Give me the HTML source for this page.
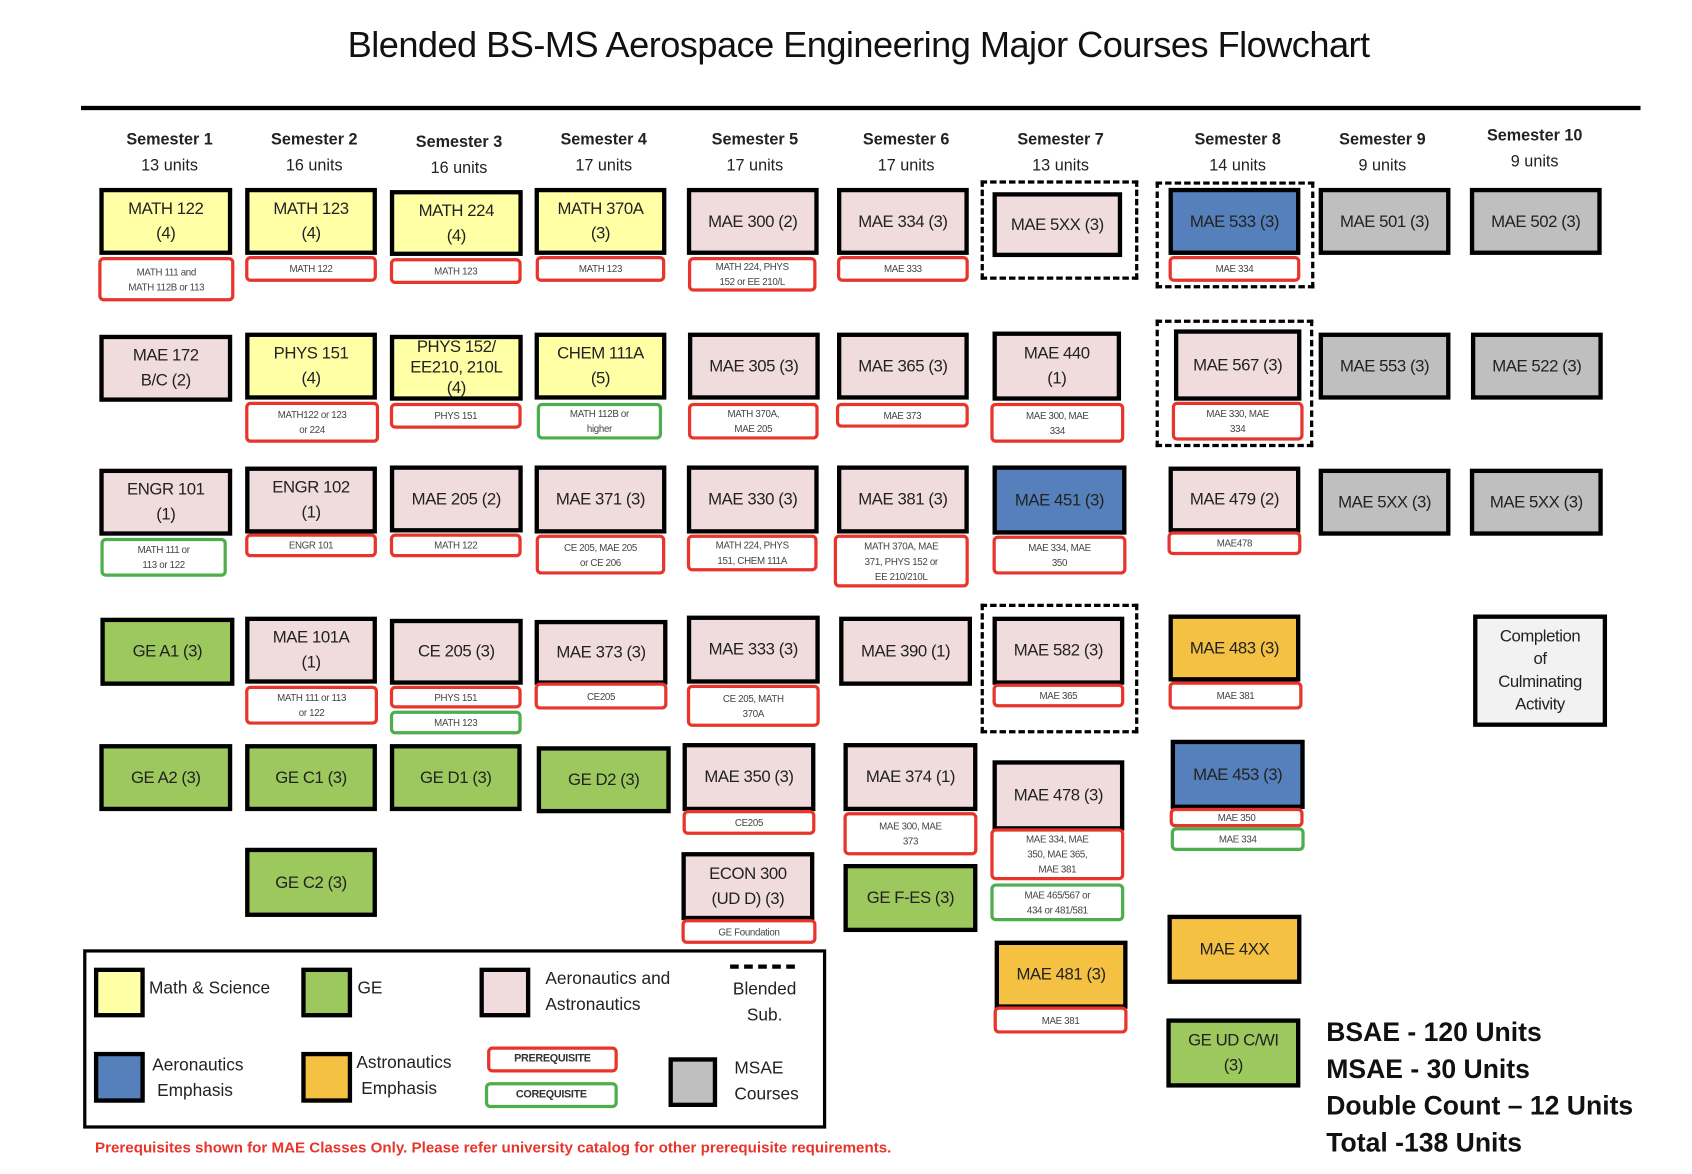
<!DOCTYPE html>
<html><head><meta charset="utf-8"><style>
html,body{margin:0;padding:0;background:#fff;}
body{width:1692px;height:1174px;overflow:hidden;position:relative;}
#s{position:absolute;left:0;top:0;width:1567px;height:1087px;transform:scale(1.08);transform-origin:0 0;font-family:"Liberation Sans",sans-serif;color:#222;}
#s div{position:absolute;box-sizing:border-box;}
.b{border:4px solid #000;display:flex;align-items:center;justify-content:center;text-align:center;font-size:15.5px;line-height:23px;letter-spacing:-0.4px;}
.p,.c{background:#fff;border:3px solid #e8342b;border-radius:5px;display:flex;align-items:center;justify-content:center;text-align:center;font-size:9px;line-height:14px;color:#444;letter-spacing:-0.3px;}
.c{border-color:#4cae4c;}
.y{background:#ffffa6}.k{background:#f0dcdc}.g{background:#9cc85e}.u{background:#5580bb}.o{background:#f4c142}.r{background:#bfbfbf}
.d{border:3.5px dashed #000;}
.h{text-align:center;width:120px;font-size:15px;line-height:24px;}
.h b{font-weight:bold;}
.t{font-size:16px;line-height:24px;}
</style></head><body><div id="s">
<div style="left:0;width:1552px;top:24px;text-align:center;font-size:33.5px;letter-spacing:-0.5px;color:#111;padding-left:38px">Blended BS-MS Aerospace Engineering Major Courses Flowchart</div>
<div style="left:75px;top:98px;width:1444px;height:4px;background:#000"></div>

<div class="h" style="left:97px;top:118px"><b>Semester 1</b><br>13 units</div>
<div class="h" style="left:231px;top:118px"><b>Semester 2</b><br>16 units</div>
<div class="h" style="left:365px;top:120px"><b>Semester 3</b><br>16 units</div>
<div class="h" style="left:499px;top:118px"><b>Semester 4</b><br>17 units</div>
<div class="h" style="left:639px;top:118px"><b>Semester 5</b><br>17 units</div>
<div class="h" style="left:779px;top:118px"><b>Semester 6</b><br>17 units</div>
<div class="h" style="left:922px;top:118px"><b>Semester 7</b><br>13 units</div>
<div class="h" style="left:1086px;top:118px"><b>Semester 8</b><br>14 units</div>
<div class="h" style="left:1220px;top:118px"><b>Semester 9</b><br>9 units</div>
<div class="h" style="left:1361px;top:114px"><b>Semester 10</b><br>9 units</div>

<!-- Row 1 -->
<div class="b y" style="left:92px;top:174px;width:123px;height:62px">MATH 122<br>(4)</div>
<div class="p" style="left:91px;top:238px;width:126px;height:41px">MATH 111 and<br>MATH 112B or 113</div>
<div class="b y" style="left:227px;top:174px;width:122px;height:62px">MATH 123<br>(4)</div>
<div class="p" style="left:227px;top:237px;width:122px;height:24px">MATH 122</div>
<div class="b y" style="left:361px;top:176px;width:123px;height:61px">MATH 224<br>(4)</div>
<div class="p" style="left:361px;top:239px;width:122px;height:24px">MATH 123</div>
<div class="b y" style="left:495px;top:174px;width:122px;height:62px">MATH 370A<br>(3)</div>
<div class="p" style="left:496px;top:237px;width:120px;height:24px">MATH 123</div>
<div class="b k" style="left:636px;top:174px;width:122px;height:62px">MAE 300 (2)</div>
<div class="p" style="left:637px;top:238px;width:119px;height:32px">MATH 224, PHYS<br>152 or EE 210/L</div>
<div class="b k" style="left:775px;top:174px;width:122px;height:62px">MAE 334 (3)</div>
<div class="p" style="left:775px;top:237px;width:122px;height:24px">MAE 333</div>
<div class="d" style="left:908px;top:167px;width:146px;height:92px"></div>
<div class="b k" style="left:919px;top:178px;width:120px;height:60px">MAE 5XX (3)</div>
<div class="d" style="left:1070px;top:168px;width:147px;height:99px"></div>
<div class="b u" style="left:1082px;top:174px;width:122px;height:62px">MAE 533 (3)</div>
<div class="p" style="left:1082px;top:237px;width:122px;height:24px">MAE 334</div>
<div class="b r" style="left:1221px;top:174px;width:122px;height:62px">MAE 501 (3)</div>
<div class="b r" style="left:1361px;top:174px;width:122px;height:62px">MAE 502 (3)</div>

<!-- Row 2 -->
<div class="b k" style="left:92px;top:310px;width:123px;height:62px">MAE 172<br>B/C (2)</div>
<div class="b y" style="left:227px;top:308px;width:122px;height:62px">PHYS 151<br>(4)</div>
<div class="p" style="left:227px;top:372px;width:124px;height:38px">MATH122 or 123<br>or 224</div>
<div class="b y" style="left:361px;top:310px;width:123px;height:61px;line-height:19px">PHYS 152/<br>EE210, 210L<br>(4)</div>
<div class="p" style="left:361px;top:373px;width:122px;height:24px">PHYS 151</div>
<div class="b y" style="left:495px;top:308px;width:122px;height:62px">CHEM 111A<br>(5)</div>
<div class="c" style="left:497px;top:373px;width:116px;height:34px">MATH 112B or<br>higher</div>
<div class="b k" style="left:637px;top:308px;width:122px;height:62px">MAE 305 (3)</div>
<div class="p" style="left:637px;top:373px;width:121px;height:34px">MATH 370A,<br>MAE 205</div>
<div class="b k" style="left:775px;top:308px;width:122px;height:62px">MAE 365 (3)</div>
<div class="p" style="left:774px;top:373px;width:123px;height:23px">MAE 373</div>
<div class="b k" style="left:919px;top:307px;width:119px;height:64px">MAE 440<br>(1)</div>
<div class="p" style="left:917px;top:373px;width:124px;height:37px">MAE 300, MAE<br>334</div>
<div class="d" style="left:1070px;top:296px;width:146px;height:118px"></div>
<div class="b k" style="left:1087px;top:305px;width:118px;height:66px">MAE 567 (3)</div>
<div class="p" style="left:1085px;top:372px;width:122px;height:36px">MAE 330, MAE<br>334</div>
<div class="b r" style="left:1221px;top:308px;width:122px;height:62px">MAE 553 (3)</div>
<div class="b r" style="left:1362px;top:308px;width:122px;height:62px">MAE 522 (3)</div>

<!-- Row 3 -->
<div class="b k" style="left:92px;top:434px;width:123px;height:62px">ENGR 101<br>(1)</div>
<div class="c" style="left:93px;top:498px;width:117px;height:36px">MATH 111 or<br>113 or 122</div>
<div class="b k" style="left:227px;top:432px;width:122px;height:62px">ENGR 102<br>(1)</div>
<div class="p" style="left:227px;top:494px;width:122px;height:22px">ENGR 101</div>
<div class="b k" style="left:361px;top:431px;width:123px;height:62px">MAE 205 (2)</div>
<div class="p" style="left:361px;top:494px;width:122px;height:22px">MATH 122</div>
<div class="b k" style="left:495px;top:431px;width:122px;height:63px">MAE 371 (3)</div>
<div class="p" style="left:496px;top:495px;width:120px;height:37px">CE 205, MAE 205<br>or CE 206</div>
<div class="b k" style="left:636px;top:431px;width:122px;height:63px">MAE 330 (3)</div>
<div class="p" style="left:636px;top:495px;width:121px;height:34px">MATH 224, PHYS<br>151, CHEM 111A</div>
<div class="b k" style="left:775px;top:431px;width:122px;height:63px">MAE 381 (3)</div>
<div class="p" style="left:772px;top:495px;width:125px;height:49px">MATH 370A, MAE<br>371, PHYS 152 or<br>EE 210/210L</div>
<div class="b u" style="left:919px;top:431px;width:124px;height:64px">MAE 451 (3)</div>
<div class="p" style="left:919px;top:496px;width:124px;height:36px">MAE 334, MAE<br>350</div>
<div class="b k" style="left:1082px;top:432px;width:122px;height:61px">MAE 479 (2)</div>
<div class="p" style="left:1081px;top:492px;width:124px;height:22px">MAE478</div>
<div class="b r" style="left:1221px;top:434px;width:122px;height:62px">MAE 5XX (3)</div>
<div class="b r" style="left:1361px;top:434px;width:123px;height:62px">MAE 5XX (3)</div>

<!-- Row 4 -->
<div class="b g" style="left:93px;top:572px;width:124px;height:63px">GE A1 (3)</div>
<div class="b k" style="left:227px;top:571px;width:122px;height:62px">MAE 101A<br>(1)</div>
<div class="p" style="left:227px;top:635px;width:123px;height:36px">MATH 111 or 113<br>or 122</div>
<div class="b k" style="left:361px;top:573px;width:123px;height:61px">CE 205 (3)</div>
<div class="p" style="left:361px;top:635px;width:122px;height:21px">PHYS 151</div>
<div class="c" style="left:361px;top:658px;width:122px;height:22px">MATH 123</div>
<div class="b k" style="left:495px;top:574px;width:123px;height:60px">MAE 373 (3)</div>
<div class="p" style="left:495px;top:632px;width:123px;height:25px">CE205</div>
<div class="b k" style="left:636px;top:570px;width:123px;height:63px">MAE 333 (3)</div>
<div class="p" style="left:636px;top:634px;width:123px;height:39px">CE 205, MATH<br>370A</div>
<div class="b k" style="left:777px;top:571px;width:123px;height:64px">MAE 390 (1)</div>
<div class="d" style="left:908px;top:559px;width:146px;height:120px"></div>
<div class="b k" style="left:919px;top:571px;width:122px;height:63px">MAE 582 (3)</div>
<div class="p" style="left:919px;top:633px;width:122px;height:22px">MAE 365</div>
<div class="b o" style="left:1082px;top:569px;width:122px;height:62px">MAE 483 (3)</div>
<div class="p" style="left:1082px;top:631px;width:124px;height:26px">MAE 381</div>
<div class="b" style="left:1364px;top:569px;width:124px;height:104px;background:#f2f2f2;line-height:21px">Completion<br>of<br>Culminating<br>Activity</div>

<!-- Row 5 -->
<div class="b g" style="left:92px;top:689px;width:123px;height:62px">GE A2 (3)</div>
<div class="b g" style="left:227px;top:689px;width:122px;height:62px">GE C1 (3)</div>
<div class="b g" style="left:361px;top:689px;width:122px;height:62px">GE D1 (3)</div>
<div class="b g" style="left:497px;top:691px;width:124px;height:62px">GE D2 (3)</div>
<div class="b k" style="left:632px;top:688px;width:123px;height:63px">MAE 350 (3)</div>
<div class="p" style="left:632px;top:750px;width:123px;height:23px">CE205</div>
<div class="b k" style="left:781px;top:688px;width:124px;height:63px">MAE 374 (1)</div>
<div class="p" style="left:781px;top:752px;width:124px;height:40px">MAE 300, MAE<br>373</div>
<div class="b k" style="left:919px;top:704px;width:122px;height:65px">MAE 478 (3)</div>
<div class="p" style="left:917px;top:767px;width:124px;height:48px">MAE 334, MAE<br>350, MAE 365,<br>MAE 381</div>
<div class="c" style="left:917px;top:818px;width:124px;height:35px">MAE 465/567 or<br>434 or 481/581</div>
<div class="b u" style="left:1084px;top:685px;width:124px;height:64px">MAE 453 (3)</div>
<div class="p" style="left:1083px;top:748px;width:124px;height:18px">MAE 350</div>
<div class="c" style="left:1084px;top:766px;width:124px;height:22px">MAE 334</div>

<!-- Row 6 -->
<div class="b g" style="left:227px;top:785px;width:122px;height:64px">GE C2 (3)</div>
<div class="b k" style="left:631px;top:789px;width:123px;height:63px">ECON 300<br>(UD D) (3)</div>
<div class="p" style="left:631px;top:851px;width:125px;height:23px">GE Foundation</div>
<div class="b g" style="left:781px;top:800px;width:124px;height:63px">GE F-ES (3)</div>
<div class="b o" style="left:921px;top:871px;width:123px;height:63px">MAE 481 (3)</div>
<div class="p" style="left:920px;top:932px;width:124px;height:25px">MAE 381</div>
<div class="b o" style="left:1081px;top:847px;width:124px;height:64px">MAE 4XX</div>
<div class="b g" style="left:1080px;top:943px;width:124px;height:64px">GE UD C/WI<br>(3)</div>

<!-- Legend -->
<div style="left:77px;top:879px;width:688px;height:166px;border:3.5px solid #000"></div>
<div class="b y" style="left:87px;top:896px;width:47px;height:46px"></div>
<div class="t" style="left:138px;top:904px">Math &amp; Science</div>
<div class="b g" style="left:279px;top:896px;width:47px;height:46px"></div>
<div class="t" style="left:331px;top:904px">GE</div>
<div class="b k" style="left:444px;top:896px;width:47px;height:46px"></div>
<div class="t" style="left:505px;top:895px">Aeronautics and<br>Astronautics</div>
<div style="left:676px;top:893px;width:60px;height:0;border-top:4px dashed #000"></div>
<div class="t" style="left:668px;top:905px;width:80px;text-align:center">Blended<br>Sub.</div>
<div class="b u" style="left:87px;top:974px;width:47px;height:47px"></div>
<div class="t" style="left:141px;top:975px">Aeronautics<br>&nbsp;Emphasis</div>
<div class="b o" style="left:279px;top:974px;width:47px;height:47px"></div>
<div class="t" style="left:330px;top:973px">Astronautics<br>&nbsp;Emphasis</div>
<div class="p" style="left:451px;top:969px;width:121px;height:24px;font-weight:bold;color:#333;font-size:10px">PREREQUISITE</div>
<div class="c" style="left:449px;top:1002px;width:123px;height:24px;font-weight:bold;color:#333;font-size:10px">COREQUISITE</div>
<div class="b r" style="left:619px;top:979px;width:45px;height:46px"></div>
<div class="t" style="left:680px;top:978px">MSAE<br>Courses</div>

<div style="left:88px;top:1054px;font-size:14px;font-weight:bold;color:#e8342b;letter-spacing:0">Prerequisites shown for MAE Classes Only. Please refer university catalog for other prerequisite requirements.</div>

<div style="left:1228px;top:940px;font-size:24.6px;line-height:34px;font-weight:bold;color:#111;letter-spacing:0">BSAE - 120 Units<br>MSAE - 30 Units<br>Double Count – 12 Units<br>Total -138 Units</div>
</div></body></html>
